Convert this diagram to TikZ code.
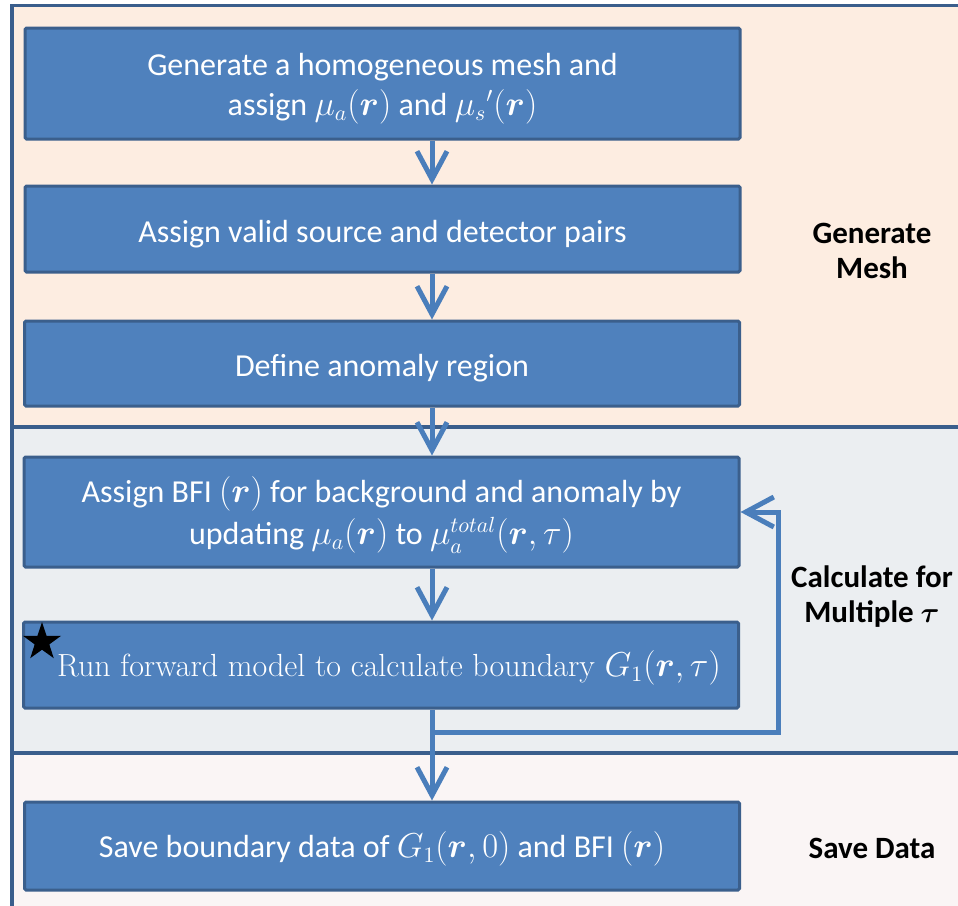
\documentclass[tikz,border=0pt]{standalone}
\usepackage{amsmath,bm}
\usepackage{fontspec}
\newfontfamily\calibri{Carlito}
\usetikzlibrary{arrows.meta,shapes.geometric}
\definecolor{boxfill}{HTML}{4F81BD}
\definecolor{boxline}{HTML}{3B5F8C}
\definecolor{panelline}{HTML}{3A5E8C}
\definecolor{arrowc}{HTML}{4A7EBB}
\definecolor{peach}{HTML}{FDEDE1}
\definecolor{graypanel}{HTML}{EBEEF1}
\definecolor{pinkpanel}{HTML}{FAF5F5}
\newcommand{\tallstrut}{\rule{0pt}{16pt}}
\tikzset{
  stepbox/.style={draw=boxline, fill=boxfill, line width=1.5pt, minimum width=357.5pt,
    inner sep=0pt, align=center, text=white, rounded corners=0.8pt,
    font=\calibri\fontsize{16}{20}\selectfont},
  flow/.style={draw=arrowc, line width=2.5pt, -{Straight Barb[length=14pt,width=15pt]}},
  panel/.style={draw=panelline, line width=1.8pt},
  lbl/.style={align=center, text=black, font=\calibri\bfseries\fontsize{15.5}{17.5}\selectfont},
}
\begin{document}
\begin{tikzpicture}[x=0.5pt,y=-0.5pt]
\useasboundingbox (0,0) rectangle (958,905);
\clip (0,0) rectangle (958,905);
\fill[white] (0,0) rectangle (958,905);
% panels
\draw[panel, fill=peach] (12,5.5) rectangle (980,427);
\draw[panel, fill=graypanel] (12,427) rectangle (980,753);
\draw[panel, fill=pinkpanel] (12,753) rectangle (980,930);
% boxes
\node[stepbox, minimum height=55.5pt] (b1) at (382.5,83.5)
  {\tallstrut Generate a homogeneous mesh and\\ assign $\mu_a(\bm{r})$ and ${\mu_s}'(\bm{r})$};
\node[stepbox, minimum height=43pt] (b2) at (382.5,229)
  {\tallstrut Assign valid source and detector pairs};
\node[stepbox, minimum height=42.5pt] (b3) at (382,363.5)
  {\tallstrut Define anomaly region};
\node[stepbox, minimum height=55pt] (b4) at (381.5,512)
  {\tallstrut Assign BFI $(\bm{r})$ for background and anomaly by\\[1pt] updating $\mu_a(\bm{r})$ to $\mu_a^{total}(\bm{r},\tau)$};
\node[stepbox, minimum height=43pt, font=\rmfamily\fontsize{16}{20}\selectfont] (b5) at (381,665)
  {\tallstrut\hspace*{8pt}Run forward model to calculate boundary $G_1(\bm{r},\tau)$};
\node[stepbox, minimum height=44pt] (b6) at (382,846)
  {\tallstrut Save boundary data of $G_1(\bm{r},0)$ and BFI $(\bm{r})$};
\node[star, star points=5, star point ratio=2.6, fill=black, minimum size=20pt, inner sep=0pt] (st) at (42,642) {};
% labels
\node[lbl] (l1) at (872,251) {Generate\\Mesh};
\node[lbl] (l2) at (872,597) {Calculate for\\Multiple $\bm{\tau}$};
\node[lbl] (l3) at (872,848) {Save Data};
% connectors
\coordinate (ax) at (432,0);
\coordinate (lx) at (778,0);
\coordinate (ly) at (0,732);
\draw[flow] (ax |- b1.south) -- (ax |- b2.north);
\draw[flow] (ax |- b2.south) -- (ax |- b3.north);
\draw[flow] (ax |- b3.south) -- (ax |- b4.north);
\draw[flow] (ax |- b4.south) -- (ax |- b5.north);
\draw[flow] (ax |- b5.south) -- (ax |- b6.north);
\draw[flow] (ax |- ly) -| (lx |- b4.east) -- (b4.east);
\end{tikzpicture}
\end{document}
